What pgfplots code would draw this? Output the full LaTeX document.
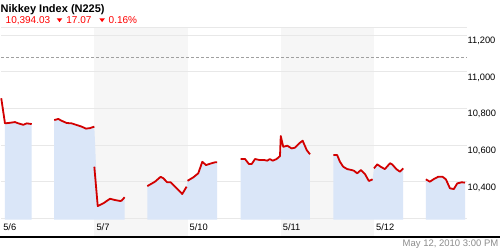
\documentclass[border=0pt]{standalone}
\usepackage{fontspec}
\setmainfont{Liberation Sans}
\usepackage{pgfplots}
\usepackage{pgfplotstable}
\pgfplotsset{compat=1.18}
\definecolor{areablue}{RGB}{218,230,248}
\definecolor{linered}{RGB}{210,0,0}
\definecolor{bandgray}{RGB}{246,246,246}
\definecolor{gridgray}{RGB}{232,232,232}
\definecolor{dashgray}{RGB}{160,160,160}
\definecolor{dategray}{RGB}{140,140,140}

% x = hours since 9:00 on 5/6 (6 trading hours per day), y = index value
% ---- price line pieces ----
\pgfplotstableread{
h v
0.01 10856
0.25 10719
0.57 10722
0.89 10726
1.11 10719
1.43 10711
1.65 10719
1.97 10715
}\lineA
\pgfplotstableread{
h v
3.42 10737
3.68 10743
3.90 10733
4.22 10721
4.54 10719
4.86 10710
5.19 10701
5.46 10690
5.72 10693
6.00 10701
}\lineB
\pgfplotstableread{
h v
6.00 10482
6.22 10267
6.58 10282
7.01 10307
7.33 10300
7.65 10295
7.75 10296
7.95 10315
}\lineC
\pgfplotstableread{
h v
9.41 10376
9.90 10400
10.27 10427
10.44 10419
10.69 10397
10.91 10397
11.30 10364
11.66 10333
11.94 10373
}\lineD
\pgfplotstableread{
h v
12.00 10405
12.37 10424
12.69 10446
12.95 10509
13.19 10491
13.55 10501
13.76 10506
13.91 10506
}\lineE
\pgfplotstableread{
h v
15.42 10524
15.70 10524
15.95 10497
16.13 10497
16.34 10524
16.62 10519
16.92 10519
17.13 10515
17.30 10524
17.48 10515
17.73 10524
17.95 10540
18.00 10650
18.16 10591
18.42 10597
18.70 10582
18.91 10586
19.19 10610
19.41 10624
19.67 10573
19.88 10550
}\lineF
\pgfplotstableread{
h v
21.38 10546
21.63 10546
21.81 10509
22.02 10482
22.28 10469
22.56 10464
22.71 10460
22.92 10446
23.16 10464
23.42 10442
23.67 10404
23.91 10413
}\lineG
\pgfplotstableread{
h v
24.00 10473
24.21 10495
24.43 10482
24.70 10469
25.03 10501
25.17 10495
25.45 10468
25.67 10455
25.88 10473
}\lineH
\pgfplotstableread{
h v
27.34 10413
27.60 10400
27.86 10415
28.13 10427
28.42 10427
28.63 10413
28.89 10364
29.14 10360
29.36 10391
29.65 10397
29.86 10395
}\lineI
% ---- shaded areas (down to 10,193) ----
\pgfplotstableread{
h v
0.25 10193
0.25 10719
0.57 10722
0.89 10726
1.11 10719
1.43 10711
1.65 10719
1.97 10715
1.97 10193
}\areaA
\pgfplotstableread{
h v
3.42 10193
3.42 10737
3.68 10743
3.90 10733
4.22 10721
4.54 10719
4.86 10710
5.19 10701
5.46 10690
5.72 10693
6.00 10701
6.22 10267
6.58 10282
7.01 10307
7.33 10300
7.65 10295
7.75 10296
7.95 10315
7.95 10193
}\areaB
\pgfplotstableread{
h v
9.41 10193
9.41 10376
9.90 10400
10.27 10427
10.44 10419
10.69 10397
10.91 10397
11.30 10364
11.66 10333
11.94 10373
12.00 10405
12.37 10424
12.69 10446
12.95 10509
13.19 10491
13.55 10501
13.76 10506
13.91 10506
13.91 10193
}\areaC
\pgfplotstableread{
h v
15.42 10193
15.42 10524
15.70 10524
15.95 10497
16.13 10497
16.34 10524
16.62 10519
16.92 10519
17.13 10515
17.30 10524
17.48 10515
17.73 10524
17.95 10540
18.16 10591
18.42 10597
18.70 10582
18.91 10586
19.19 10610
19.41 10624
19.67 10573
19.88 10550
19.88 10193
}\areaD
\pgfplotstableread{
h v
21.38 10193
21.38 10546
21.63 10546
21.81 10509
22.02 10482
22.28 10469
22.56 10464
22.71 10460
22.92 10446
23.16 10464
23.42 10442
23.67 10404
23.91 10413
24.00 10473
24.21 10495
24.43 10482
24.70 10469
25.03 10501
25.17 10495
25.45 10468
25.67 10455
25.88 10473
25.88 10193
}\areaE
\pgfplotstableread{
h v
27.34 10193
27.34 10413
27.60 10400
27.86 10415
28.13 10427
28.42 10427
28.63 10413
28.89 10364
29.14 10360
29.36 10391
29.65 10397
29.86 10395
29.86 10193
}\areaF

\begin{document}
\begin{tikzpicture}
\useasboundingbox (0,0) rectangle (500bp,250bp);
\fill[white] (0,0) rectangle (500bp,250bp);
\begin{axis}[
  at={(1.1bp,13bp)}, anchor=south west,
  scale only axis, width=466.1bp, height=209bp,
  xmin=0, xmax=30, ymin=10098, ymax=11240,
  axis on top,
  axis line style={draw=none},
  tick style={draw=none},
  scaled y ticks=false,
  scaled x ticks=false,
  xtick={0,6,12,18,24},
  xticklabels={5/6,5/7,5/10,5/11,5/12},
  xticklabel style={anchor=base west, inner sep=0pt, xshift=2bp, yshift=6.3bp,
    font=\fontsize{9.3bp}{11bp}\selectfont},
  ytick={10200,10400,10600,10800,11000,11200},
  yticklabels={{},{10,400},{10,600},{10,800},{11,000},{11,200}},
  yticklabel pos=right,
  yticklabel style={anchor=north west, inner sep=0pt, yshift=-1.7bp, xshift=0.2bp,
    font=\fontsize{9.3bp}{11bp}\selectfont},
  clip=false,
]
% shaded day bands (5/7 and 5/11)
\addplot[fill=bandgray, draw=none] coordinates {(6,10098) (6,11240) (12,11240) (12,10098)};
\addplot[fill=bandgray, draw=none] coordinates {(18,10098) (18,11240) (24,11240) (24,10098)};
% grid lines
\addplot[gridgray, line width=1bp] coordinates {(0,10200) (30,10200)};
\addplot[gridgray, line width=1bp] coordinates {(0,10400) (30,10400)};
\addplot[gridgray, line width=1bp] coordinates {(0,10600) (30,10600)};
\addplot[gridgray, line width=1bp] coordinates {(0,10800) (30,10800)};
\addplot[gridgray, line width=1bp] coordinates {(0,11000) (30,11000)};
\addplot[gridgray, line width=1bp] coordinates {(0,11200) (30,11200)};
\addplot[gridgray, line width=1bp] coordinates {(0,11240) (30,11240)};
% dashed reference line
\addplot[dashgray, line width=0.8bp, dash pattern=on 3bp off 2bp] coordinates {(0,11081) (30,11081)};
% area fills
\addplot[draw=none, fill=areablue] table[x=h,y=v] {\areaA};
\addplot[draw=none, fill=areablue] table[x=h,y=v] {\areaB};
\addplot[draw=none, fill=areablue] table[x=h,y=v] {\areaC};
\addplot[draw=none, fill=areablue] table[x=h,y=v] {\areaD};
\addplot[draw=none, fill=areablue] table[x=h,y=v] {\areaE};
\addplot[draw=none, fill=areablue] table[x=h,y=v] {\areaF};
% price lines
\addplot[linered, line width=1.8bp, line join=round, mark=none] table[x=h,y=v] {\lineA};
\addplot[linered, line width=1.8bp, line join=round, mark=none] table[x=h,y=v] {\lineB};
\addplot[linered, line width=1.8bp, line join=round, mark=none] table[x=h,y=v] {\lineC};
\addplot[linered, line width=1.8bp, line join=round, mark=none] table[x=h,y=v] {\lineD};
\addplot[linered, line width=1.8bp, line join=round, mark=none] table[x=h,y=v] {\lineE};
\addplot[linered, line width=1.8bp, line join=round, mark=none] table[x=h,y=v] {\lineF};
\addplot[linered, line width=1.8bp, line join=round, mark=none] table[x=h,y=v] {\lineG};
\addplot[linered, line width=1.8bp, line join=round, mark=none] table[x=h,y=v] {\lineH};
\addplot[linered, line width=1.8bp, line join=round, mark=none] table[x=h,y=v] {\lineI};
\end{axis}
% bottom rule
\draw[black, line width=2bp] (0,13bp) -- (500bp,13bp);
% header
\node[anchor=base west, inner sep=0pt, font=\bfseries\fontsize{11bp}{13bp}\selectfont] at (0.5bp,237.3bp) {Nikkey Index (N225)};
\node[anchor=base west, inner sep=0pt, text=red, font=\fontsize{10bp}{12bp}\selectfont] at (5.5bp,226bp) {10,394.03};
\fill[red] (56.7bp,231.7bp) -- (62.3bp,231.7bp) -- (59.5bp,227.9bp) -- cycle;
\node[anchor=base west, inner sep=0pt, text=red, font=\fontsize{10bp}{12bp}\selectfont] at (66.2bp,226bp) {17.07};
\fill[red] (99.3bp,231.7bp) -- (104.9bp,231.7bp) -- (102.1bp,227.9bp) -- cycle;
\node[anchor=base west, inner sep=0pt, text=red, font=\fontsize{10bp}{12bp}\selectfont] at (108.5bp,226bp) {0.16\%};
% timestamp
\node[anchor=base east, inner sep=0pt, text=dategray, font=\fontsize{9.5bp}{11bp}\selectfont] at (498.5bp,3.2bp) {May 12, 2010 3:00 PM};
\end{tikzpicture}
\end{document}
